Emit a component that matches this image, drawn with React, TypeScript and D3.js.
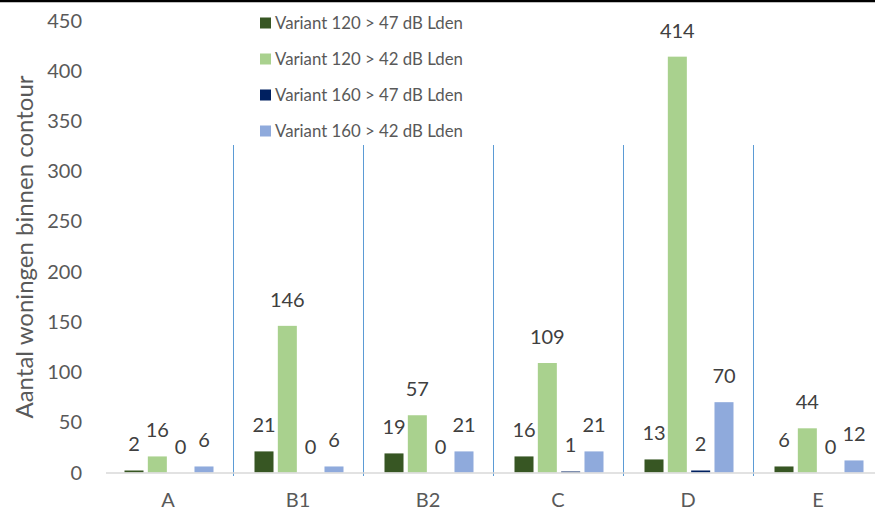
import React from "react";
import * as d3 from "d3";

const categories = ["A", "B1", "B2", "C", "D", "E"];
const seriesNames = [
  "Variant 120 > 47 dB Lden",
  "Variant 120 > 42 dB Lden",
  "Variant 160 > 47 dB Lden",
  "Variant 160 > 42 dB Lden",
];
const v120_47 = [2, 21, 19, 16, 13, 6];
const v120_42 = [16, 146, 57, 109, 414, 44];
const v160_47 = [0, 0, 0, 1, 2, 0];
const v160_42 = [6, 6, 21, 21, 70, 12];
const seriesValues = [v120_47, v120_42, v160_47, v160_42];
const colors = ["#375623", "#A9D18E", "#002060", "#8FAADC"];
const yTicks = [0, 50, 100, 150, 200, 250, 300, 350, 400, 450];

const W = 875;
const H = 511;
const FONT = "Lato, 'Open Sans', sans-serif";

export default function App() {
  const x0 = d3.scaleBand<string>().domain(categories).range([103, 883]);
  const x1 = d3
    .scaleBand<number>()
    .domain([0, 1, 2, 3])
    .range([-44.5, 44.5])
    .paddingInner(0.185);
  const y = d3.scaleLinear().domain([0, 450]).range([472.5, 20.5]);
  const bw = x1.bandwidth();

  return (
    <svg
      width={W}
      height={H}
      style={{ position: "absolute", left: 0, top: 0, background: "#fff" }}
      fontFamily={FONT}
    >
      <line x1={0} x2={875} y1={1} y2={1} stroke="#000" strokeWidth={2.5} />
      {/* y ticks */}
      {yTicks.map((t) => (
        <text
          key={t}
          x={82}
          y={y(t)}
          dy="0.35em"
          textAnchor="end"
          fontSize={20}
          fill="#595959"
        >
          {t}
        </text>
      ))}
      {/* y title */}
      <text
        transform={`translate(33,247) rotate(-90)`}
        textAnchor="middle"
        fontSize={24}
        fill="#595959"
      >
        Aantal woningen binnen contour
      </text>
      {/* separators */}
      {categories.slice(1).map((c) => (
        <line
          key={c}
          x1={Math.round(x0(c)!) + 0.5}
          x2={Math.round(x0(c)!) + 0.5}
          y1={145}
          y2={476}
          stroke="#5B9BD5"
          strokeWidth={1}
          shapeRendering="crispEdges"
        />
      ))}
      {/* bars */}
      {categories.map((c, ci) => {
        const cx = x0(c)! + x0.bandwidth() / 2 + 1;
        return (
          <g key={c}>
            {seriesValues.map((vals, si) => {
              const v = vals[ci];
              const bx = cx + x1(si)!;
              return (
                <g key={si}>
                  <rect
                    x={bx}
                    y={y(v)}
                    width={bw}
                    height={y(0) - y(v)}
                    fill={colors[si]}
                  />
                  <text
                    x={bx + bw / 2}
                    y={y(v) - 19}
                    textAnchor="middle"
                    fontSize={20}
                    fill="#404040"
                  >
                    {v}
                  </text>
                </g>
              );
            })}
            <text
              x={x0(c)! + x0.bandwidth() / 2}
              y={507}
              textAnchor="middle"
              fontSize={20}
              fill="#595959"
            >
              {c}
            </text>
          </g>
        );
      })}
      {/* baseline */}
      <line x1={106} x2={875} y1={473} y2={473} stroke="#D9D9D9" strokeWidth={1.5} />
      {/* legend */}
      {seriesNames.map((n, i) => (
        <g key={n} transform={`translate(260,${23 + i * 36})`}>
          <rect x={0} y={-5.5} width={11} height={11} fill={colors[i]} />
          <text x={15} y={0} dy="0.35em" fontSize={16.8} fill="#595959">
            {n}
          </text>
        </g>
      ))}
    </svg>
  );
}
